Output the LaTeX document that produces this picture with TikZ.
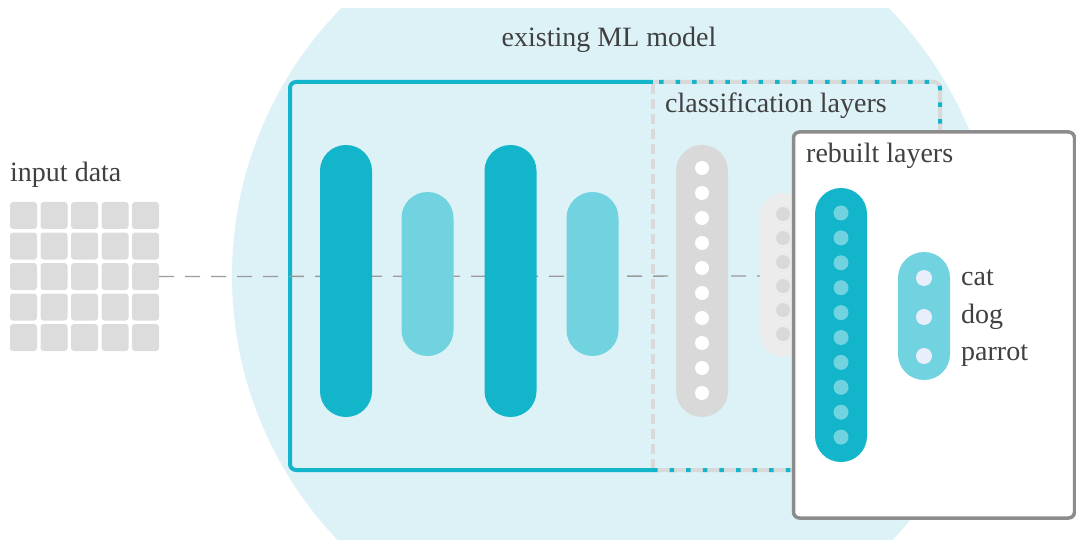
\documentclass[tikz,border=0pt]{standalone}
\usepackage{fontspec}
\setmainfont{Liberation Serif}
\definecolor{bgblue}{HTML}{DCF2F7}
\definecolor{tealc}{HTML}{13B5CB}
\definecolor{lteal}{HTML}{72D3E0}
\definecolor{pgray}{HTML}{D9D9D9}
\definecolor{lgray}{HTML}{ECECEC}
\definecolor{sqgray}{HTML}{DCDCDC}
\definecolor{txt}{HTML}{404040}
\definecolor{bordergray}{HTML}{8C8C8C}
\definecolor{dashgray}{HTML}{9A9A9A}
\definecolor{outdot}{HTML}{E8EEFA}
\begin{document}
\begin{tikzpicture}[x=1pt,y=-1pt,
  lbl/.style={font=\fontsize{28}{30}\selectfont, text=txt, inner sep=0pt},
  sq/.style={rectangle, rounded corners=3pt, fill=sqgray, minimum width=27pt, minimum height=27pt, inner sep=0pt},
  pill/.style={rectangle, rounded corners=25.9pt, minimum width=52pt, inner sep=0pt, draw=none},
  dotn/.style={circle, minimum size=14pt, inner sep=0pt, draw=none},
  dashline/.style={draw=dashgray, line width=1.3pt, dash pattern=on 15pt off 11pt},
  rebuilt/.style={rectangle, rounded corners=6pt, fill=white, draw=bordergray, line width=3.5pt, minimum width=281pt, minimum height=386pt, inner sep=0pt}
]
\useasboundingbox (0,0) rectangle (1076,540);
% background circle
\begin{scope}
  \clip (0,9) rectangle (1076,540);
  \fill[bgblue] (615,276) circle[radius=383pt];
\end{scope}
% main model box
\draw[tealc, line width=4pt, rounded corners=6pt] (653,82) -- (290,82) -- (290,470) -- (653,470);
\draw[pgray, line width=4pt, rounded corners=6pt] (653,82) -- (940,82) -- (940,470) -- (653,470);
\draw[tealc, line width=4pt, dash pattern=on 4.5pt off 12.1pt, dash phase=-6pt] (653,82) -- (934,82) arc[start angle=90, end angle=0, radius=6pt] -- (940,464) arc[start angle=0, end angle=-90, radius=6pt] -- (653,470);
\draw[pgray, line width=3.5pt, dash pattern=on 10pt off 5pt] (653,84) -- (653,468);
% labels
\node[lbl, anchor=base] (title) at (609,47) {existing ML model};
\node[lbl, anchor=base west] (cls) at (665,113) {classification layers};
\node[lbl, anchor=base west] (inp) at (10,182) {input data};
% input grid
\foreach \i in {0,...,4}{
  \foreach \j in {0,...,4}{
    \node[sq] (g\i\j) at (23.5+30.5*\i, 215.5+30.5*\j) {};
  }
}
% flow line
\coordinate (dend) at (790,276);
\draw[dashline] (g42.east) -- (dend);
% pills
\node[pill, fill=tealc, minimum height=272pt] (p1) at (346,281) {};
\node[pill, fill=lteal, minimum height=164pt] (p2) at (427.5,274) {};
\node[pill, fill=tealc, minimum height=272pt] (p3) at (510.5,281) {};
\node[pill, fill=lteal, minimum height=164pt] (p4) at (592.5,274) {};
\node[pill, fill=pgray, minimum height=272pt] (p5) at (702,281) {};
\foreach \k in {0,...,9}{
  \node[dotn, fill=white] (d5\k) at (702,168+25*\k) {};
}
\node[pill, fill=lgray, minimum height=164pt, minimum width=46pt, rounded corners=22.9pt] (p6) at (783,275) {};
\foreach \k in {0,...,5}{
  \node[dotn, fill=pgray] (d6\k) at (783,214+24*\k) {};
}
% rebuilt layers box
\node[rebuilt] (rb) at (934,325) {};
\node[lbl, anchor=base west] (rbl) at (806,163) {rebuilt layers};
\node[pill, fill=tealc, minimum height=274pt] (p7) at (841,325) {};
\foreach \k in {0,...,9}{
  \node[dotn, fill=lteal, minimum size=15pt] (d7\k) at (841,213+24.9*\k) {};
}
\node[pill, fill=lteal, minimum height=128pt] (p8) at (924,316) {};
\node[dotn, fill=outdot, minimum size=16pt] (o1) at (924,278) {};
\node[dotn, fill=outdot, minimum size=16pt] (o2) at (924,317) {};
\node[dotn, fill=outdot, minimum size=16pt] (o3) at (924,356) {};
\node[lbl, anchor=west] (cat) at (961,278) {cat};
\node[lbl, anchor=west] (dog) at (961,317) {dog};
\node[lbl, anchor=west] (parrot) at (961,356) {parrot};
\end{tikzpicture}
\end{document}
